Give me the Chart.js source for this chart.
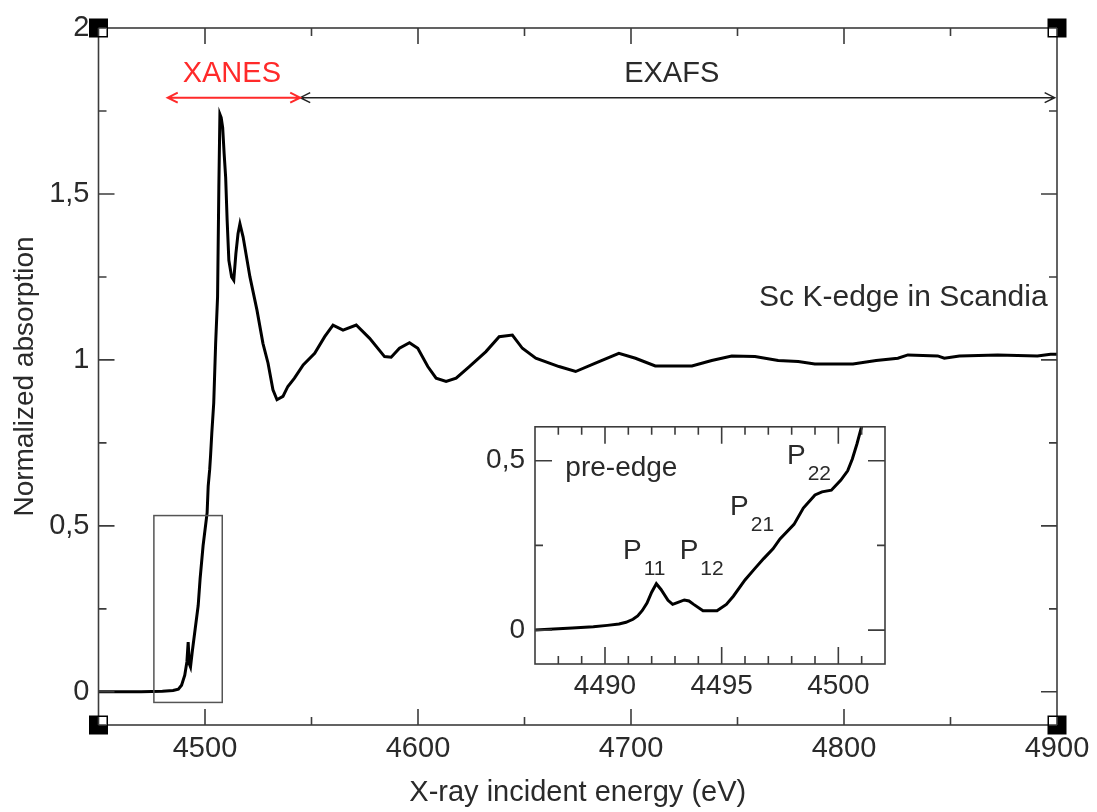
<!DOCTYPE html>
<html>
<head>
<meta charset="utf-8">
<script src="https://cdn.jsdelivr.net/npm/chart.js@4.4.1/dist/chart.umd.min.js"></script>
<style>
  html, body { margin: 0; padding: 0; background: #fff; }
  #wrap { position: relative; width: 1097px; height: 812px; }
  #main { position: absolute; left: 0; top: 0; width: 1097px; height: 812px; }
  #inset { position: absolute; left: 470px; top: 400px; width: 430px; height: 310px; }
</style>
</head>
<body>
<div id="wrap">
  <canvas id="main" width="1097" height="812"></canvas>
  <canvas id="inset" width="430" height="310"></canvas>
</div>
<script>
// Sc K-edge spectrum (main plot)
const energy = [4450, 4470, 4480, 4485, 4487.5, 4489, 4490.5, 4491.5, 4492.1, 4492.6, 4493.2, 4494, 4495.4, 4496.8, 4497.7,
  4499.1, 4501.0, 4501.5, 4502.2, 4502.6, 4503.2, 4504.1, 4505.0, 4505.9, 4506.5, 4507.0, 4507.6, 4508.3, 4509.0, 4509.7,
  4510.4, 4511.2, 4512.5, 4513.5, 4514.5, 4515.5, 4516.4, 4517.9, 4521.1, 4524.4, 4527.2, 4529.6, 4531.9, 4533.8, 4536.6,
  4538.9, 4542, 4546.1, 4551.5, 4556.2, 4560.1, 4564.8, 4571.0, 4577.3, 4584.3, 4587.4, 4591.3, 4596.0, 4599.9, 4604.6,
  4608.5, 4613.2, 4617.9, 4624.1, 4631.9, 4638.1, 4644.3, 4649.0, 4655.3, 4666.2, 4674.0, 4683.3, 4694.3, 4702.1, 4711.4,
  4728.6, 4737.9, 4747.3, 4758.2, 4769.1, 4778.5, 4786.3, 4804.2, 4815.1, 4825.3, 4830.0, 4844.0, 4847.1, 4854.2, 4872.1,
  4890.8, 4897, 4900];
const absorption = [0, 0, 0.002, 0.004, 0.008, 0.02, 0.05, 0.09, 0.15, 0.085, 0.075, 0.12, 0.19, 0.26, 0.34,
  0.44, 0.54, 0.62, 0.67, 0.71, 0.78, 0.87, 1.05, 1.19, 1.52, 1.74, 1.73, 1.70, 1.62, 1.55,
  1.42, 1.30, 1.25, 1.24, 1.32, 1.38, 1.41, 1.37, 1.25, 1.15, 1.05, 0.99, 0.91, 0.88, 0.89,
  0.92, 0.945, 0.985, 1.02, 1.07, 1.105, 1.09, 1.105, 1.065, 1.01, 1.008, 1.035, 1.052, 1.035, 0.98,
  0.945, 0.935, 0.945, 0.98, 1.025, 1.07, 1.075, 1.035, 1.005, 0.98, 0.965, 0.99, 1.02, 1.005, 0.982,
  0.982, 0.998, 1.012, 1.01, 0.998, 0.995, 0.988, 0.988, 0.998, 1.005, 1.015, 1.012, 1.005, 1.012, 1.015,
  1.012, 1.017, 1.017];

// pre-edge (inset)
const insetEnergy = [4487.0, 4488.0, 4488.6, 4489.5, 4490.1, 4490.6, 4490.9, 4491.2, 4491.4, 4491.6, 4491.8, 4492.0, 4492.2,
  4492.4, 4492.7, 4492.9, 4493.1, 4493.4, 4493.6, 4493.8, 4494.2, 4494.8, 4495.2, 4495.5, 4496.0, 4496.4, 4496.8, 4497.2,
  4497.5, 4498.1, 4498.5, 4499.0, 4499.3, 4499.7, 4500.1, 4500.4, 4500.6, 4500.8, 4501.0];
const insetAbsorption = [0.0, 0.004, 0.006, 0.01, 0.014, 0.018, 0.023, 0.032, 0.042, 0.058, 0.08, 0.112, 0.137,
  0.12, 0.088, 0.076, 0.081, 0.089, 0.086, 0.076, 0.057, 0.057, 0.076, 0.10, 0.148, 0.18, 0.211, 0.24,
  0.269, 0.312, 0.36, 0.399, 0.408, 0.413, 0.442, 0.47, 0.505, 0.55, 0.601];

// tick values
const xTicks = [4500, 4600, 4700, 4800, 4900];
const xMinorTicks = [4550, 4650, 4750, 4850];
const yTicks = [0, 0.5, 1, 1.5, 2];
const yMinorTicks = [0.25, 0.75, 1.25, 1.75];
const insetXTicks = [4490, 4495, 4500];
const insetXMinorTicks = [4488, 4489, 4491, 4492, 4493, 4494, 4496, 4497, 4498, 4499, 4501];
const insetYTicks = [0, 0.5];
const insetYMinorTicks = [0.25];

// annotations (data units)
const xanesRange = [4482.5, 4544.7];
const exafsRange = [4544.7, 4898.9];
const arrowLevel = 1.79;
const zoomBoxX = [4476, 4508.1];
const zoomBoxY = [-0.032, 0.531];

const FONT = "'Liberation Sans', Arial, Helvetica, sans-serif";
const TEXT = '#2a2a2a';
const AXIS = '#3c3c3c';

function comma(v) {
  return String(v).replace('.', ',');
}

// frame + inward ticks on all four sides
const frameTicks = {
  id: 'frameTicks',
  afterDatasetsDraw(chart, args, o) {
    const { ctx, chartArea: a, scales } = chart;
    const sx = scales.x, sy = scales.y;
    ctx.save();
    ctx.strokeStyle = AXIS;
    ctx.lineWidth = 1.6;
    ctx.beginPath();
    const vt = (v, len) => {
      const p = sx.getPixelForValue(v);
      ctx.moveTo(p, a.bottom); ctx.lineTo(p, a.bottom - len);
      ctx.moveTo(p, a.top); ctx.lineTo(p, a.top + len);
    };
    const ht = (v, len) => {
      const p = sy.getPixelForValue(v);
      ctx.moveTo(a.left, p); ctx.lineTo(a.left + len, p);
      ctx.moveTo(a.right, p); ctx.lineTo(a.right - len, p);
    };
    o.xMajor.forEach(v => vt(v, o.major));
    o.xMinor.forEach(v => vt(v, o.minor));
    o.yMajor.forEach(v => ht(v, o.major));
    o.yMinor.forEach(v => ht(v, o.minor));
    ctx.stroke();
    ctx.strokeRect(a.left, a.top, a.right - a.left, a.bottom - a.top);
    ctx.restore();
  }
};

function drawArrow(ctx, x1, x2, y, color, w) {
  ctx.strokeStyle = color;
  ctx.lineWidth = w;
  ctx.beginPath();
  ctx.moveTo(x1, y); ctx.lineTo(x2, y);
  ctx.moveTo(x1 + 10, y - 5); ctx.lineTo(x1, y); ctx.lineTo(x1 + 10, y + 5);
  ctx.moveTo(x2 - 10, y - 5); ctx.lineTo(x2, y); ctx.lineTo(x2 - 10, y + 5);
  ctx.stroke();
}

// arrows, labels, zoom box and corner marks of the main plot
const mainExtras = {
  id: 'mainExtras',
  afterDraw(chart) {
    const { ctx, chartArea: a, scales: { x, y } } = chart;
    ctx.save();

    // zoom box
    ctx.strokeStyle = '#555';
    ctx.lineWidth = 1.5;
    const bx1 = x.getPixelForValue(zoomBoxX[0]), bx2 = x.getPixelForValue(zoomBoxX[1]);
    const by1 = y.getPixelForValue(zoomBoxY[1]), by2 = y.getPixelForValue(zoomBoxY[0]);
    ctx.strokeRect(bx1, by1, bx2 - bx1, by2 - by1);

    // XANES / EXAFS arrows
    const ay = y.getPixelForValue(arrowLevel);
    drawArrow(ctx, x.getPixelForValue(exafsRange[0]), x.getPixelForValue(exafsRange[1]), ay, '#222', 1.5);
    drawArrow(ctx, x.getPixelForValue(xanesRange[0]), x.getPixelForValue(xanesRange[1]), ay, '#ff2a2a', 2);

    ctx.font = '29px ' + FONT;
    ctx.textBaseline = 'middle';
    ctx.textAlign = 'center';
    ctx.fillStyle = '#ff2a2a';
    ctx.fillText('XANES', x.getPixelForValue(4512.6), y.getPixelForValue(1.861));
    ctx.fillStyle = TEXT;
    ctx.fillText('EXAFS', x.getPixelForValue(4719.1), y.getPixelForValue(1.861));
    ctx.textAlign = 'right';
    ctx.font = '30px ' + FONT;
    ctx.fillText('Sc K-edge in Scandia', x.getPixelForValue(4895.6), y.getPixelForValue(1.187));

    // corner marks
    const s = 19, n = 8;
    [[a.left, a.top, 1, 1], [a.right, a.top, -1, 1], [a.left, a.bottom, 1, -1], [a.right, a.bottom, -1, -1]]
      .forEach(([cx, cy, dx, dy]) => {
        ctx.fillStyle = '#000';
        ctx.fillRect(cx - s / 2, cy - s / 2, s, s);
        ctx.fillStyle = '#fff';
        ctx.fillRect(dx > 0 ? cx : cx - n, dy > 0 ? cy : cy - n, n, n);
        ctx.strokeStyle = AXIS;
        ctx.lineWidth = 1.6;
        ctx.beginPath();
        ctx.moveTo(cx, cy); ctx.lineTo(cx + dx * n, cy);
        ctx.moveTo(cx, cy); ctx.lineTo(cx, cy + dy * n);
        ctx.stroke();
      });
    ctx.restore();
  }
};

// labels inside the inset
const insetExtras = {
  id: 'insetExtras',
  afterDraw(chart) {
    const { ctx, scales: { x, y } } = chart;
    ctx.save();
    ctx.fillStyle = TEXT;
    ctx.textBaseline = 'middle';
    ctx.textAlign = 'left';
    ctx.font = '28px ' + FONT;
    ctx.fillText('pre-edge', x.getPixelForValue(4488.3), y.getPixelForValue(0.478));
    const peak = (name, sub, ex, ey) => {
      const px = x.getPixelForValue(ex), py = y.getPixelForValue(ey);
      ctx.font = '28px ' + FONT;
      ctx.fillText(name, px, py);
      const w = ctx.measureText(name).width;
      ctx.font = '21px ' + FONT;
      ctx.fillText(sub, px + w + 2, py + 18);
    };
    peak('P', '11', 4490.77, 0.233);
    peak('P', '12', 4493.2, 0.233);
    peak('P', '21', 4495.36, 0.363);
    peak('P', '22', 4497.8, 0.513);
    ctx.restore();
  }
};

function points(xs, ys) {
  return xs.map((v, i) => ({ x: v, y: ys[i] }));
}

new Chart(document.getElementById('main'), {
  type: 'line',
  data: {
    datasets: [{
      data: points(energy, absorption),
      borderColor: '#000',
      borderWidth: 3,
      pointRadius: 0,
      tension: 0
    }]
  },
  options: {
    responsive: false,
    animation: false,
    layout: { padding: { top: 28, right: 40, left: 0, bottom: 0 } },
    plugins: {
      legend: { display: false },
      tooltip: { enabled: false },
      frameTicks: { xMajor: [4500, 4600, 4700, 4800], xMinor: xMinorTicks, yMajor: [0, 0.5, 1, 1.5], yMinor: yMinorTicks, major: 16, minor: 8 }
    },
    scales: {
      x: {
        type: 'linear', min: 4450, max: 4900,
        afterFit(s) { s.height = 87; },
        afterBuildTicks(s) { s.ticks = xTicks.map(v => ({ value: v })); },
        grid: { display: false, drawTicks: false },
        border: { display: false },
        ticks: { font: { family: FONT, size: 29 }, color: TEXT, padding: 7, maxRotation: 0, autoSkip: false, callback: v => String(v) },
        title: { display: true, text: 'X-ray incident energy (eV)', font: { family: FONT, size: 29 }, color: TEXT, padding: { top: 0, bottom: 2 } }
      },
      y: {
        type: 'linear', min: -0.1, max: 2,
        afterFit(s) { s.width = 98.5; },
        afterBuildTicks(s) { s.ticks = yTicks.map(v => ({ value: v })); },
        grid: { display: false, drawTicks: false },
        border: { display: false },
        ticks: { font: { family: FONT, size: 29 }, color: TEXT, padding: 9, autoSkip: false, callback: v => comma(v) },
        title: { display: true, text: 'Normalized absorption', font: { family: FONT, size: 28 }, color: TEXT, padding: { top: 8, bottom: 0 } }
      }
    }
  },
  plugins: [frameTicks, mainExtras]
});

new Chart(document.getElementById('inset'), {
  type: 'line',
  data: {
    datasets: [{
      data: points(insetEnergy, insetAbsorption),
      borderColor: '#000',
      borderWidth: 3,
      pointRadius: 0,
      tension: 0
    }]
  },
  options: {
    responsive: false,
    animation: false,
    layout: { padding: { top: 21, right: 15, left: 0, bottom: 0 } },
    plugins: {
      legend: { display: false },
      tooltip: { enabled: false },
      frameTicks: { xMajor: insetXTicks, xMinor: insetXMinorTicks, yMajor: insetYTicks, yMinor: insetYMinorTicks, major: 17, minor: 8 }
    },
    scales: {
      x: {
        type: 'linear', min: 4487, max: 4502,
        afterFit(s) { s.height = 46; },
        afterBuildTicks(s) { s.ticks = insetXTicks.map(v => ({ value: v })); },
        grid: { display: false, drawTicks: false },
        border: { display: false },
        ticks: { font: { family: FONT, size: 28 }, color: TEXT, padding: 5, maxRotation: 0, autoSkip: false, callback: v => String(v) }
      },
      y: {
        type: 'linear', min: -0.1, max: 0.6,
        afterFit(s) { s.width = 65; },
        afterBuildTicks(s) { s.ticks = insetYTicks.map(v => ({ value: v })); },
        grid: { display: false, drawTicks: false },
        border: { display: false },
        ticks: { font: { family: FONT, size: 28 }, color: TEXT, padding: 10, autoSkip: false, callback: v => comma(v) }
      }
    }
  },
  plugins: [frameTicks, insetExtras]
});
</script>
</body>
</html>
